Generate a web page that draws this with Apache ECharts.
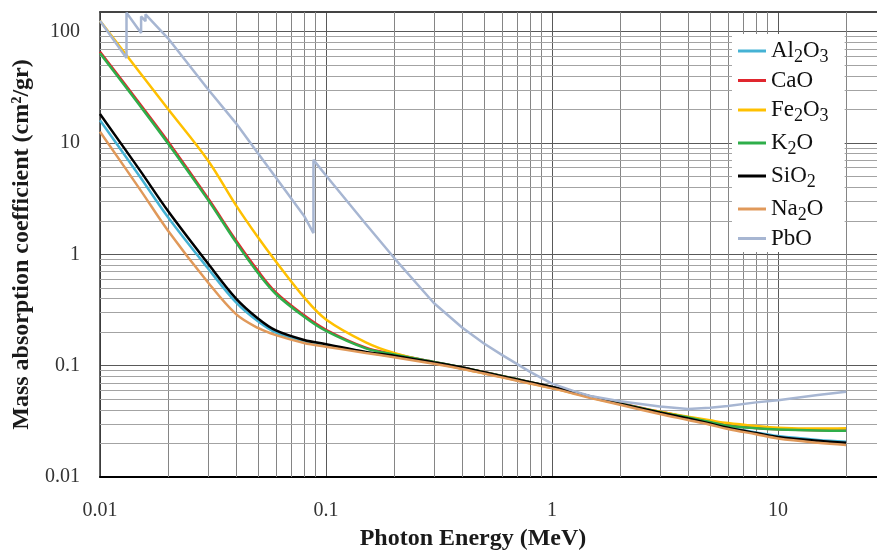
<!DOCTYPE html>
<html>
<head>
<meta charset="utf-8">
<script src="https://cdn.jsdelivr.net/npm/echarts@6/dist/echarts.min.js"></script>
<style>
html, body { margin: 0; padding: 0; background: #fff; }
#chart { width: 877px; height: 554px; }
</style>
</head>
<body>
<div id="chart"></div>
<script>
// photon energy (MeV) shared by the oxide curves
const energy = [0.01, 0.015, 0.02, 0.03, 0.04, 0.05, 0.06, 0.08, 0.1, 0.15, 0.2, 0.3, 0.4, 0.5, 0.6, 0.8, 1, 1.25, 1.5, 2, 3, 4, 5, 6, 8, 10, 15, 20]

// mass absorption coefficient (cm2/gr)
const al2o3 = [16.0, 5.0, 2.15, 0.75, 0.37, 0.25, 0.198, 0.166, 0.153, 0.132, 0.121, 0.106, 0.0955, 0.0868, 0.0802, 0.0705, 0.064, 0.0575, 0.0522, 0.0453, 0.0378, 0.0334, 0.0302, 0.0279, 0.0251, 0.0233, 0.0215, 0.0207]
const cao = [66, 22.5, 10.3, 3.2, 1.33, 0.71, 0.455, 0.283, 0.21, 0.145, 0.127, 0.108, 0.0965, 0.0876, 0.0809, 0.0711, 0.0644, 0.0577, 0.0527, 0.046, 0.0385, 0.0345, 0.0315, 0.0292, 0.0275, 0.0268, 0.0263, 0.0262]
const fe2o3 = [125, 43, 20.2, 7.0, 2.75, 1.42, 0.86, 0.41, 0.26, 0.162, 0.13, 0.106, 0.094, 0.0855, 0.079, 0.0695, 0.063, 0.0565, 0.0515, 0.0452, 0.0385, 0.0348, 0.0323, 0.0305, 0.0287, 0.0277, 0.0272, 0.0274]
const k2o = [64, 21.7, 9.9, 3.1, 1.28, 0.68, 0.44, 0.275, 0.205, 0.143, 0.126, 0.108, 0.0965, 0.0875, 0.0808, 0.071, 0.0643, 0.0576, 0.0525, 0.0458, 0.0382, 0.0342, 0.0312, 0.0288, 0.0274, 0.0267, 0.0261, 0.026]
const sio2 = [18.2, 5.7, 2.45, 0.83, 0.4, 0.265, 0.207, 0.17, 0.156, 0.133, 0.123, 0.107, 0.0963, 0.0873, 0.0805, 0.071, 0.0645, 0.058, 0.052, 0.0455, 0.038, 0.0335, 0.0302, 0.0277, 0.0248, 0.0229, 0.0212, 0.0203]
const na2o = [12.6, 3.85, 1.63, 0.562, 0.29, 0.218, 0.188, 0.16, 0.148, 0.13, 0.119, 0.104, 0.0935, 0.085, 0.0785, 0.069, 0.0625, 0.056, 0.051, 0.0445, 0.0368, 0.0325, 0.0295, 0.027, 0.0242, 0.0222, 0.0203, 0.0194]

// PbO has its own energies because of the L and K absorption edges
const pboEnergy = [0.01, 0.0131, 0.0131, 0.0152, 0.0152, 0.0159, 0.0159, 0.02, 0.03, 0.04, 0.05, 0.06, 0.08, 0.088, 0.088, 0.1, 0.15, 0.2, 0.3, 0.4, 0.5, 0.6, 0.8, 1, 1.25, 1.5, 2, 3, 4, 5, 6, 8, 10, 15, 20]
const pbo = [125, 58, 148, 97, 137, 124, 143, 87, 30.5, 15, 8.1, 4.9, 2.21, 1.55, 7.05, 5.1, 1.87, 0.93, 0.365, 0.22, 0.158, 0.125, 0.088, 0.069, 0.059, 0.053, 0.048, 0.043, 0.0408, 0.0418, 0.0434, 0.0468, 0.049, 0.0545, 0.0583]

const seriesNames = ["Al2O3", "CaO", "Fe2O3", "K2O", "SiO2", "Na2O", "PbO"]
const seriesValues = [al2o3, cao, fe2o3, k2o, sio2, na2o, pbo]
const seriesColors = ["#45b2d4", "#e0262e", "#ffc000", "#2fae4a", "#000000", "#e0995a", "#a7b6d2"]

// axis range
const xMin = 0.01
const xMax = 100
const yMin = 0.01
const yMax = 150

// minor gridline values (2..9 within each decade)
const minorX = []
const minorY = []
for (let d = -2; d <= 1; d++) {
    for (let k = 2; k <= 9; k++) minorX.push(Number((k * Math.pow(10, d)).toPrecision(3)))
}
for (let d = -2; d <= 2; d++) {
    for (let k = 2; k <= 9; k++) {
        const v = Number((k * Math.pow(10, d)).toPrecision(3))
        if (v < yMax) minorY.push(v)
    }
}

const serif = "Liberation Serif"

/**
 * 图例名称转成带下标的富文本
 */
function richName(name) {
    return name
        .split(/(\d)/)
        .filter(Boolean)
        .map(p => (/\d/.test(p) ? `{s|${p}}` : `{n|${p}}`))
        .join("")
}

function decadeLabel(v) {
    const l = Math.log10(v)
    if (Math.abs(l - Math.round(l)) > 1e-6) return ""
    return String(Number(Number(v).toPrecision(3)))
}

const chart = echarts.init(document.getElementById("chart"))

const lineSeries = seriesNames.map((name, i) => {
    const xs = name === "PbO" ? pboEnergy : energy
    return {
        name,
        type: "line",
        data: xs.map((e, j) => [e, seriesValues[i][j]]),
        showSymbol: false,
        symbol: "none",
        smooth: name === "PbO" ? false : 0.35,
        clip: true,
        z: 3,
        lineStyle: { width: 2.5, color: seriesColors[i] },
        itemStyle: { color: seriesColors[i] },
    }
})

const gridSeries = {
    name: "grid",
    type: "line",
    data: [[1, 1]],
    symbol: "none",
    silent: true,
    lineStyle: { opacity: 0 },
    z: 1,
    markLine: {
        silent: true,
        symbol: "none",
        z: 1,
        animation: false,
        label: { show: false },
        emphasis: { disabled: true },
        data: [
            ...minorX.map(v => ({ xAxis: v, lineStyle: { color: "#858585", width: 1, type: "solid" } })),
            ...minorY.map(v => ({ yAxis: v, lineStyle: { color: "#a3a3a3", width: 1, type: "solid" } })),
        ],
    },
}

chart.setOption({
    animation: false,
    backgroundColor: "#fff",
    grid: {
        left: 100,
        right: -127,
        top: 12,
        bottom: 77,
        containLabel: false,
        outerBoundsMode: "none",
    },
    title: {
        text: "Photon Energy (MeV)",
        left: 473,
        top: 527,
        textAlign: "center",
        padding: 0,
        textStyle: { fontFamily: serif, fontWeight: "bold", fontSize: 24, color: "#1a1a1a" },
    },
    legend: {
        data: seriesNames,
        orient: "vertical",
        left: 732,
        top: 34,
        padding: [2, 16, 2, 6],
        backgroundColor: "#fff",
        icon: "rect",
        itemWidth: 28,
        itemHeight: 3,
        itemGap: 3,
        selectedMode: false,
        formatter: name => richName(name),
        textStyle: {
            rich: {
                n: { fontFamily: serif, fontSize: 23, lineHeight: 28, color: "#111" },
                s: { fontFamily: serif, fontSize: 18, lineHeight: 16, padding: [12, 0, 0, 0], color: "#111" },
            },
        },
    },
    xAxis: [
        {
            type: "log",
            logBase: 10,
            min: xMin,
            max: xMax,
            axisLine: { show: true, onZero: false, lineStyle: { color: "#000", width: 2 } },
            axisTick: { show: false },
            axisLabel: {
                margin: 24,
                fontFamily: serif,
                fontSize: 20,
                color: "#333",
                formatter: decadeLabel,
            },
            splitLine: { show: true, lineStyle: { color: "#595959", width: 1 } },
        },
        {
            type: "log",
            logBase: 10,
            position: "top",
            min: xMin,
            max: xMax,
            axisLine: { show: true, onZero: false, lineStyle: { color: "#444", width: 2 } },
            axisTick: { show: false },
            axisLabel: { show: false },
            splitLine: { show: false },
        },
    ],
    yAxis: {
        type: "log",
        logBase: 10,
        min: yMin,
        max: yMax,
        name: "Mass absorption coefficient (cm²/gr)",
        nameLocation: "middle",
        nameRotate: 90,
        nameGap: 65,
        nameTextStyle: { fontFamily: serif, fontWeight: "bold", fontSize: 24, color: "#1a1a1a" },
        axisLine: { show: true, onZero: false, lineStyle: { color: "#333", width: 1.5 } },
        axisTick: { show: false },
        axisLabel: {
            margin: 20,
            fontFamily: serif,
            fontSize: 20,
            color: "#333",
            showMaxLabel: false,
            formatter: decadeLabel,
        },
        splitLine: { show: true, lineStyle: { color: "#595959", width: 1 } },
    },
    series: [gridSeries, ...lineSeries],
})
</script>
</body>
</html>
